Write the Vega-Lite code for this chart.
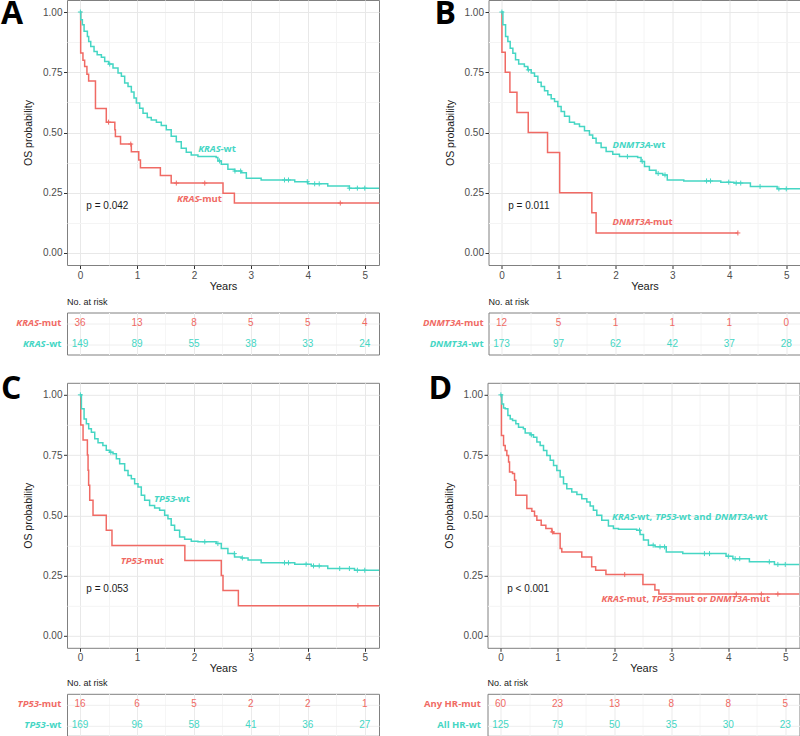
{
  "$schema": "https://vega.github.io/schema/vega-lite/v6.json",
  "padding": {"top": -3, "left": 0, "right": 0, "bottom": 0},
  "autosize": {"type": "pad"},
  "background": "white",
  "spacing": 16.8,
  "config": {
    "view": {"stroke": "#808080", "strokeWidth": 1},
    "axis": {"domain": false, "tickColor": "#333333", "tickSize": 3.5, "labelFont": "Liberation Sans", "titleFont": "Liberation Sans", "labelFontSize": 10, "titleFontSize": 10.5, "labelColor": "#4d4d4d", "titleColor": "#1a1a1a", "titleFontWeight": "normal"}
  },
  "datasets": {
    "letters": [{"panel":"A","letter":"A","t":-1.389,"s":0.95},{"panel":"B","letter":"B","t":-1.179,"s":0.95},{"panel":"C","letter":"C","t":-1.389,"s":0.984},{"panel":"D","letter":"D","t":-1.266,"s":0.984}],
    "km": [
      {"panel":"A","grp":"mut","t":0,"s":1},{"panel":"A","grp":"mut","t":0.01,"s":0.83},{"panel":"A","grp":"mut","t":0.05,"s":0.8},{"panel":"A","grp":"mut","t":0.08,"s":0.774},{"panel":"A","grp":"mut","t":0.12,"s":0.742},{"panel":"A","grp":"mut","t":0.15,"s":0.714},{"panel":"A","grp":"mut","t":0.27,"s":0.6},{"panel":"A","grp":"mut","t":0.46,"s":0.543},{"panel":"A","grp":"mut","t":0.61,"s":0.511},{"panel":"A","grp":"mut","t":0.62,"s":0.483},{"panel":"A","grp":"mut","t":0.71,"s":0.452},{"panel":"A","grp":"mut","t":0.9,"s":0.42},{"panel":"A","grp":"mut","t":1.03,"s":0.386},{"panel":"A","grp":"mut","t":1.06,"s":0.354},{"panel":"A","grp":"mut","t":1.41,"s":0.321},{"panel":"A","grp":"mut","t":1.6,"s":0.29},{"panel":"A","grp":"mut","t":2.51,"s":0.248},{"panel":"A","grp":"mut","t":2.71,"s":0.207},{"panel":"A","grp":"mut","t":5.25,"s":0.207},
      {"panel":"A","grp":"wt","t":0,"s":1},{"panel":"A","grp":"wt","t":0.011,"s":0.968},{"panel":"A","grp":"wt","t":0.04,"s":0.947},{"panel":"A","grp":"wt","t":0.07,"s":0.92},{"panel":"A","grp":"wt","t":0.128,"s":0.899},{"panel":"A","grp":"wt","t":0.151,"s":0.878},{"panel":"A","grp":"wt","t":0.187,"s":0.857},{"panel":"A","grp":"wt","t":0.245,"s":0.836},{"panel":"A","grp":"wt","t":0.3,"s":0.823},{"panel":"A","grp":"wt","t":0.374,"s":0.812},{"panel":"A","grp":"wt","t":0.432,"s":0.795},{"panel":"A","grp":"wt","t":0.502,"s":0.784},{"panel":"A","grp":"wt","t":0.578,"s":0.768},{"panel":"A","grp":"wt","t":0.666,"s":0.747},{"panel":"A","grp":"wt","t":0.725,"s":0.733},{"panel":"A","grp":"wt","t":0.783,"s":0.705},{"panel":"A","grp":"wt","t":0.842,"s":0.691},{"panel":"A","grp":"wt","t":0.9,"s":0.668},{"panel":"A","grp":"wt","t":0.947,"s":0.643},{"panel":"A","grp":"wt","t":0.988,"s":0.622},{"panel":"A","grp":"wt","t":1.046,"s":0.601},{"panel":"A","grp":"wt","t":1.105,"s":0.58},{"panel":"A","grp":"wt","t":1.18,"s":0.562},{"panel":"A","grp":"wt","t":1.25,"s":0.552},{"panel":"A","grp":"wt","t":1.34,"s":0.543},{"panel":"A","grp":"wt","t":1.426,"s":0.529},{"panel":"A","grp":"wt","t":1.514,"s":0.511},{"panel":"A","grp":"wt","t":1.6,"s":0.484},{"panel":"A","grp":"wt","t":1.69,"s":0.462},{"panel":"A","grp":"wt","t":1.777,"s":0.435},{"panel":"A","grp":"wt","t":1.865,"s":0.418},{"panel":"A","grp":"wt","t":1.952,"s":0.407},{"panel":"A","grp":"wt","t":2.07,"s":0.4},{"panel":"A","grp":"wt","t":2.39,"s":0.396},{"panel":"A","grp":"wt","t":2.42,"s":0.382},{"panel":"A","grp":"wt","t":2.48,"s":0.368},{"panel":"A","grp":"wt","t":2.596,"s":0.347},{"panel":"A","grp":"wt","t":2.713,"s":0.34},{"panel":"A","grp":"wt","t":2.83,"s":0.333},{"panel":"A","grp":"wt","t":2.92,"s":0.31},{"panel":"A","grp":"wt","t":3.18,"s":0.303},{"panel":"A","grp":"wt","t":3.77,"s":0.296},{"panel":"A","grp":"wt","t":4.0,"s":0.287},{"panel":"A","grp":"wt","t":4.35,"s":0.278},{"panel":"A","grp":"wt","t":4.73,"s":0.269},{"panel":"A","grp":"wt","t":5.25,"s":0.269},
      {"panel":"B","grp":"mut","t":0,"s":1},{"panel":"B","grp":"mut","t":0.006,"s":0.833},{"panel":"B","grp":"mut","t":0.064,"s":0.75},{"panel":"B","grp":"mut","t":0.146,"s":0.667},{"panel":"B","grp":"mut","t":0.27,"s":0.583},{"panel":"B","grp":"mut","t":0.468,"s":0.5},{"panel":"B","grp":"mut","t":0.807,"s":0.417},{"panel":"B","grp":"mut","t":1.02,"s":0.25},{"panel":"B","grp":"mut","t":1.585,"s":0.167},{"panel":"B","grp":"mut","t":1.66,"s":0.083},{"panel":"B","grp":"mut","t":4.15,"s":0.083},
      {"panel":"B","grp":"wt","t":0,"s":1},{"panel":"B","grp":"wt","t":0.023,"s":0.947},{"panel":"B","grp":"wt","t":0.07,"s":0.899},{"panel":"B","grp":"wt","t":0.11,"s":0.878},{"panel":"B","grp":"wt","t":0.151,"s":0.85},{"panel":"B","grp":"wt","t":0.198,"s":0.829},{"panel":"B","grp":"wt","t":0.245,"s":0.802},{"panel":"B","grp":"wt","t":0.3,"s":0.784},{"panel":"B","grp":"wt","t":0.4,"s":0.774},{"panel":"B","grp":"wt","t":0.46,"s":0.76},{"panel":"B","grp":"wt","t":0.52,"s":0.747},{"panel":"B","grp":"wt","t":0.578,"s":0.733},{"panel":"B","grp":"wt","t":0.637,"s":0.709},{"panel":"B","grp":"wt","t":0.695,"s":0.691},{"panel":"B","grp":"wt","t":0.754,"s":0.673},{"panel":"B","grp":"wt","t":0.812,"s":0.657},{"panel":"B","grp":"wt","t":0.871,"s":0.64},{"panel":"B","grp":"wt","t":0.93,"s":0.629},{"panel":"B","grp":"wt","t":0.988,"s":0.608},{"panel":"B","grp":"wt","t":1.046,"s":0.587},{"panel":"B","grp":"wt","t":1.105,"s":0.567},{"panel":"B","grp":"wt","t":1.192,"s":0.543},{"panel":"B","grp":"wt","t":1.28,"s":0.535},{"panel":"B","grp":"wt","t":1.368,"s":0.525},{"panel":"B","grp":"wt","t":1.456,"s":0.507},{"panel":"B","grp":"wt","t":1.543,"s":0.49},{"panel":"B","grp":"wt","t":1.6,"s":0.476},{"panel":"B","grp":"wt","t":1.66,"s":0.456},{"panel":"B","grp":"wt","t":1.748,"s":0.438},{"panel":"B","grp":"wt","t":1.836,"s":0.421},{"panel":"B","grp":"wt","t":1.953,"s":0.41},{"panel":"B","grp":"wt","t":2.07,"s":0.4},{"panel":"B","grp":"wt","t":2.39,"s":0.396},{"panel":"B","grp":"wt","t":2.45,"s":0.38},{"panel":"B","grp":"wt","t":2.51,"s":0.359},{"panel":"B","grp":"wt","t":2.596,"s":0.343},{"panel":"B","grp":"wt","t":2.713,"s":0.33},{"panel":"B","grp":"wt","t":2.83,"s":0.324},{"panel":"B","grp":"wt","t":2.91,"s":0.303},{"panel":"B","grp":"wt","t":3.2,"s":0.299},{"panel":"B","grp":"wt","t":3.85,"s":0.294},{"panel":"B","grp":"wt","t":4.08,"s":0.29},{"panel":"B","grp":"wt","t":4.37,"s":0.276},{"panel":"B","grp":"wt","t":4.84,"s":0.266},{"panel":"B","grp":"wt","t":5.25,"s":0.266},
      {"panel":"C","grp":"mut","t":0,"s":1},{"panel":"C","grp":"mut","t":0.011,"s":0.875},{"panel":"C","grp":"mut","t":0.052,"s":0.8125},{"panel":"C","grp":"mut","t":0.128,"s":0.75},{"panel":"C","grp":"mut","t":0.14,"s":0.6875},{"panel":"C","grp":"mut","t":0.15,"s":0.625},{"panel":"C","grp":"mut","t":0.169,"s":0.5625},{"panel":"C","grp":"mut","t":0.227,"s":0.5},{"panel":"C","grp":"mut","t":0.46,"s":0.4375},{"panel":"C","grp":"mut","t":0.56,"s":0.375},{"panel":"C","grp":"mut","t":1.84,"s":0.3125},{"panel":"C","grp":"mut","t":2.48,"s":0.25},{"panel":"C","grp":"mut","t":2.51,"s":0.1875},{"panel":"C","grp":"mut","t":2.78,"s":0.125},{"panel":"C","grp":"mut","t":5.25,"s":0.125},
      {"panel":"C","grp":"wt","t":0,"s":1},{"panel":"C","grp":"wt","t":0.023,"s":0.942},{"panel":"C","grp":"wt","t":0.07,"s":0.9},{"panel":"C","grp":"wt","t":0.11,"s":0.88},{"panel":"C","grp":"wt","t":0.151,"s":0.859},{"panel":"C","grp":"wt","t":0.198,"s":0.845},{"panel":"C","grp":"wt","t":0.257,"s":0.818},{"panel":"C","grp":"wt","t":0.315,"s":0.801},{"panel":"C","grp":"wt","t":0.4,"s":0.79},{"panel":"C","grp":"wt","t":0.46,"s":0.77},{"panel":"C","grp":"wt","t":0.52,"s":0.762},{"panel":"C","grp":"wt","t":0.578,"s":0.755},{"panel":"C","grp":"wt","t":0.637,"s":0.735},{"panel":"C","grp":"wt","t":0.695,"s":0.714},{"panel":"C","grp":"wt","t":0.783,"s":0.686},{"panel":"C","grp":"wt","t":0.842,"s":0.665},{"panel":"C","grp":"wt","t":0.9,"s":0.652},{"panel":"C","grp":"wt","t":0.958,"s":0.631},{"panel":"C","grp":"wt","t":1.017,"s":0.617},{"panel":"C","grp":"wt","t":1.075,"s":0.583},{"panel":"C","grp":"wt","t":1.134,"s":0.562},{"panel":"C","grp":"wt","t":1.221,"s":0.541},{"panel":"C","grp":"wt","t":1.309,"s":0.53},{"panel":"C","grp":"wt","t":1.397,"s":0.521},{"panel":"C","grp":"wt","t":1.485,"s":0.5},{"panel":"C","grp":"wt","t":1.543,"s":0.486},{"panel":"C","grp":"wt","t":1.6,"s":0.459},{"panel":"C","grp":"wt","t":1.66,"s":0.438},{"panel":"C","grp":"wt","t":1.748,"s":0.41},{"panel":"C","grp":"wt","t":1.836,"s":0.401},{"panel":"C","grp":"wt","t":1.953,"s":0.392},{"panel":"C","grp":"wt","t":2.07,"s":0.39},{"panel":"C","grp":"wt","t":2.39,"s":0.383},{"panel":"C","grp":"wt","t":2.48,"s":0.362},{"panel":"C","grp":"wt","t":2.596,"s":0.341},{"panel":"C","grp":"wt","t":2.713,"s":0.327},{"panel":"C","grp":"wt","t":2.83,"s":0.323},{"panel":"C","grp":"wt","t":2.95,"s":0.314},{"panel":"C","grp":"wt","t":3.18,"s":0.303},{"panel":"C","grp":"wt","t":3.77,"s":0.297},{"panel":"C","grp":"wt","t":4.06,"s":0.29},{"panel":"C","grp":"wt","t":4.35,"s":0.279},{"panel":"C","grp":"wt","t":4.82,"s":0.272},{"panel":"C","grp":"wt","t":5.25,"s":0.272},
      {"panel":"D","grp":"mut","t":0,"s":1},{"panel":"D","grp":"mut","t":0.015,"s":0.831},{"panel":"D","grp":"mut","t":0.052,"s":0.79},{"panel":"D","grp":"mut","t":0.081,"s":0.769},{"panel":"D","grp":"mut","t":0.11,"s":0.748},{"panel":"D","grp":"mut","t":0.14,"s":0.721},{"panel":"D","grp":"mut","t":0.157,"s":0.68},{"panel":"D","grp":"mut","t":0.21,"s":0.673},{"panel":"D","grp":"mut","t":0.245,"s":0.645},{"panel":"D","grp":"mut","t":0.268,"s":0.583},{"panel":"D","grp":"mut","t":0.461,"s":0.528},{"panel":"D","grp":"mut","t":0.549,"s":0.517},{"panel":"D","grp":"mut","t":0.596,"s":0.497},{"panel":"D","grp":"mut","t":0.637,"s":0.479},{"panel":"D","grp":"mut","t":0.713,"s":0.459},{"panel":"D","grp":"mut","t":0.795,"s":0.445},{"panel":"D","grp":"mut","t":0.9,"s":0.431},{"panel":"D","grp":"mut","t":0.93,"s":0.424},{"panel":"D","grp":"mut","t":1.046,"s":0.362},{"panel":"D","grp":"mut","t":1.075,"s":0.348},{"panel":"D","grp":"mut","t":1.426,"s":0.327},{"panel":"D","grp":"mut","t":1.6,"s":0.286},{"panel":"D","grp":"mut","t":1.67,"s":0.272},{"panel":"D","grp":"mut","t":1.85,"s":0.254},{"panel":"D","grp":"mut","t":2.5,"s":0.213},{"panel":"D","grp":"mut","t":2.71,"s":0.19},{"panel":"D","grp":"mut","t":2.78,"s":0.173},{"panel":"D","grp":"mut","t":5.25,"s":0.173},
      {"panel":"D","grp":"wt","t":0,"s":1},{"panel":"D","grp":"wt","t":0.023,"s":0.962},{"panel":"D","grp":"wt","t":0.052,"s":0.945},{"panel":"D","grp":"wt","t":0.081,"s":0.942},{"panel":"D","grp":"wt","t":0.128,"s":0.914},{"panel":"D","grp":"wt","t":0.169,"s":0.9},{"panel":"D","grp":"wt","t":0.21,"s":0.893},{"panel":"D","grp":"wt","t":0.268,"s":0.88},{"panel":"D","grp":"wt","t":0.315,"s":0.866},{"panel":"D","grp":"wt","t":0.4,"s":0.859},{"panel":"D","grp":"wt","t":0.432,"s":0.842},{"panel":"D","grp":"wt","t":0.52,"s":0.834},{"panel":"D","grp":"wt","t":0.578,"s":0.824},{"panel":"D","grp":"wt","t":0.637,"s":0.804},{"panel":"D","grp":"wt","t":0.695,"s":0.79},{"panel":"D","grp":"wt","t":0.754,"s":0.769},{"panel":"D","grp":"wt","t":0.812,"s":0.748},{"panel":"D","grp":"wt","t":0.871,"s":0.728},{"panel":"D","grp":"wt","t":0.93,"s":0.707},{"panel":"D","grp":"wt","t":0.988,"s":0.686},{"panel":"D","grp":"wt","t":1.046,"s":0.659},{"panel":"D","grp":"wt","t":1.105,"s":0.631},{"panel":"D","grp":"wt","t":1.163,"s":0.61},{"panel":"D","grp":"wt","t":1.25,"s":0.597},{"panel":"D","grp":"wt","t":1.34,"s":0.586},{"panel":"D","grp":"wt","t":1.426,"s":0.569},{"panel":"D","grp":"wt","t":1.514,"s":0.555},{"panel":"D","grp":"wt","t":1.573,"s":0.539},{"panel":"D","grp":"wt","t":1.63,"s":0.521},{"panel":"D","grp":"wt","t":1.69,"s":0.5},{"panel":"D","grp":"wt","t":1.777,"s":0.479},{"panel":"D","grp":"wt","t":1.894,"s":0.456},{"panel":"D","grp":"wt","t":1.982,"s":0.445},{"panel":"D","grp":"wt","t":2.07,"s":0.442},{"panel":"D","grp":"wt","t":2.39,"s":0.438},{"panel":"D","grp":"wt","t":2.45,"s":0.42},{"panel":"D","grp":"wt","t":2.51,"s":0.397},{"panel":"D","grp":"wt","t":2.596,"s":0.376},{"panel":"D","grp":"wt","t":2.713,"s":0.369},{"panel":"D","grp":"wt","t":2.91,"s":0.348},{"panel":"D","grp":"wt","t":3.2,"s":0.341},{"panel":"D","grp":"wt","t":3.96,"s":0.33},{"panel":"D","grp":"wt","t":4.08,"s":0.32},{"panel":"D","grp":"wt","t":4.37,"s":0.307},{"panel":"D","grp":"wt","t":4.81,"s":0.296},{"panel":"D","grp":"wt","t":5.25,"s":0.296}
    ],
    "cens": [
      {"panel":"A","grp":"wt","t":0.005,"s":1},{"panel":"A","grp":"wt","t":0.52,"s":0.784},{"panel":"A","grp":"wt","t":2.45,"s":0.382},{"panel":"A","grp":"wt","t":2.72,"s":0.34},{"panel":"A","grp":"wt","t":2.82,"s":0.34},{"panel":"A","grp":"wt","t":3.59,"s":0.303},{"panel":"A","grp":"wt","t":3.66,"s":0.303},{"panel":"A","grp":"wt","t":3.99,"s":0.296},{"panel":"A","grp":"wt","t":4.12,"s":0.287},{"panel":"A","grp":"wt","t":4.2,"s":0.287},{"panel":"A","grp":"wt","t":4.73,"s":0.269},{"panel":"A","grp":"wt","t":4.87,"s":0.269},{"panel":"A","grp":"wt","t":5.0,"s":0.269},
      {"panel":"A","grp":"mut","t":0.5,"s":0.543},{"panel":"A","grp":"mut","t":0.89,"s":0.452},{"panel":"A","grp":"mut","t":1.69,"s":0.29},{"panel":"A","grp":"mut","t":2.19,"s":0.29},{"panel":"A","grp":"mut","t":4.57,"s":0.207},
      {"panel":"B","grp":"wt","t":0.005,"s":1},{"panel":"B","grp":"wt","t":0.47,"s":0.76},{"panel":"B","grp":"wt","t":2.21,"s":0.4},{"panel":"B","grp":"wt","t":2.47,"s":0.38},{"panel":"B","grp":"wt","t":2.75,"s":0.33},{"panel":"B","grp":"wt","t":2.87,"s":0.324},{"panel":"B","grp":"wt","t":3.6,"s":0.299},{"panel":"B","grp":"wt","t":3.67,"s":0.299},{"panel":"B","grp":"wt","t":3.99,"s":0.294},{"panel":"B","grp":"wt","t":4.12,"s":0.29},{"panel":"B","grp":"wt","t":4.2,"s":0.29},{"panel":"B","grp":"wt","t":4.54,"s":0.276},{"panel":"B","grp":"wt","t":4.87,"s":0.266},{"panel":"B","grp":"wt","t":5.0,"s":0.266},
      {"panel":"B","grp":"mut","t":4.15,"s":0.083},
      {"panel":"C","grp":"wt","t":0.005,"s":1},{"panel":"C","grp":"wt","t":0.54,"s":0.762},{"panel":"C","grp":"wt","t":2.19,"s":0.39},{"panel":"C","grp":"wt","t":2.42,"s":0.383},{"panel":"C","grp":"wt","t":2.71,"s":0.341},{"panel":"C","grp":"wt","t":2.85,"s":0.323},{"panel":"C","grp":"wt","t":3.59,"s":0.303},{"panel":"C","grp":"wt","t":3.66,"s":0.303},{"panel":"C","grp":"wt","t":3.97,"s":0.297},{"panel":"C","grp":"wt","t":4.1,"s":0.29},{"panel":"C","grp":"wt","t":4.2,"s":0.29},{"panel":"C","grp":"wt","t":4.56,"s":0.279},{"panel":"C","grp":"wt","t":4.73,"s":0.279},{"panel":"C","grp":"wt","t":4.87,"s":0.272},{"panel":"C","grp":"wt","t":5.0,"s":0.272},
      {"panel":"C","grp":"mut","t":4.88,"s":0.125},
      {"panel":"D","grp":"wt","t":0.005,"s":1},{"panel":"D","grp":"wt","t":0.54,"s":0.834},{"panel":"D","grp":"wt","t":2.44,"s":0.438},{"panel":"D","grp":"wt","t":2.68,"s":0.376},{"panel":"D","grp":"wt","t":2.8,"s":0.369},{"panel":"D","grp":"wt","t":2.88,"s":0.369},{"panel":"D","grp":"wt","t":3.58,"s":0.341},{"panel":"D","grp":"wt","t":3.67,"s":0.341},{"panel":"D","grp":"wt","t":4.0,"s":0.33},{"panel":"D","grp":"wt","t":4.12,"s":0.32},{"panel":"D","grp":"wt","t":4.2,"s":0.32},{"panel":"D","grp":"wt","t":4.72,"s":0.307},{"panel":"D","grp":"wt","t":4.87,"s":0.296},{"panel":"D","grp":"wt","t":5.0,"s":0.296},
      {"panel":"D","grp":"mut","t":0.91,"s":0.431},{"panel":"D","grp":"mut","t":2.18,"s":0.254},{"panel":"D","grp":"mut","t":4.14,"s":0.173},{"panel":"D","grp":"mut","t":4.58,"s":0.173},{"panel":"D","grp":"mut","t":4.87,"s":0.173}
    ],
    "risk": [
      {"panel":"A","grp":"mut","t":0,"n":36},{"panel":"A","grp":"mut","t":1,"n":13},{"panel":"A","grp":"mut","t":2,"n":8},{"panel":"A","grp":"mut","t":3,"n":5},{"panel":"A","grp":"mut","t":4,"n":5},{"panel":"A","grp":"mut","t":5,"n":4},
      {"panel":"A","grp":"wt","t":0,"n":149},{"panel":"A","grp":"wt","t":1,"n":89},{"panel":"A","grp":"wt","t":2,"n":55},{"panel":"A","grp":"wt","t":3,"n":38},{"panel":"A","grp":"wt","t":4,"n":33},{"panel":"A","grp":"wt","t":5,"n":24},
      {"panel":"B","grp":"mut","t":0,"n":12},{"panel":"B","grp":"mut","t":1,"n":5},{"panel":"B","grp":"mut","t":2,"n":1},{"panel":"B","grp":"mut","t":3,"n":1},{"panel":"B","grp":"mut","t":4,"n":1},{"panel":"B","grp":"mut","t":5,"n":0},
      {"panel":"B","grp":"wt","t":0,"n":173},{"panel":"B","grp":"wt","t":1,"n":97},{"panel":"B","grp":"wt","t":2,"n":62},{"panel":"B","grp":"wt","t":3,"n":42},{"panel":"B","grp":"wt","t":4,"n":37},{"panel":"B","grp":"wt","t":5,"n":28},
      {"panel":"C","grp":"mut","t":0,"n":16},{"panel":"C","grp":"mut","t":1,"n":6},{"panel":"C","grp":"mut","t":2,"n":5},{"panel":"C","grp":"mut","t":3,"n":2},{"panel":"C","grp":"mut","t":4,"n":2},{"panel":"C","grp":"mut","t":5,"n":1},
      {"panel":"C","grp":"wt","t":0,"n":169},{"panel":"C","grp":"wt","t":1,"n":96},{"panel":"C","grp":"wt","t":2,"n":58},{"panel":"C","grp":"wt","t":3,"n":41},{"panel":"C","grp":"wt","t":4,"n":36},{"panel":"C","grp":"wt","t":5,"n":27},
      {"panel":"D","grp":"mut","t":0,"n":60},{"panel":"D","grp":"mut","t":1,"n":23},{"panel":"D","grp":"mut","t":2,"n":13},{"panel":"D","grp":"mut","t":3,"n":8},{"panel":"D","grp":"mut","t":4,"n":8},{"panel":"D","grp":"mut","t":5,"n":5},
      {"panel":"D","grp":"wt","t":0,"n":125},{"panel":"D","grp":"wt","t":1,"n":79},{"panel":"D","grp":"wt","t":2,"n":50},{"panel":"D","grp":"wt","t":3,"n":35},{"panel":"D","grp":"wt","t":4,"n":30},{"panel":"D","grp":"wt","t":5,"n":23}
    ],
    "ann": [
      {"panel":"A","grp":"wt","t":2.075,"s":0.432,"text":"KRAS","it":true},{"panel":"A","grp":"wt","t":2.465,"s":0.432,"text":"-wt","it":false},
      {"panel":"A","grp":"mut","t":1.7,"s":0.223,"text":"KRAS","it":true},{"panel":"A","grp":"mut","t":2.09,"s":0.223,"text":"-mut","it":false},
      {"panel":"B","grp":"wt","t":1.947,"s":0.449,"text":"DNMT3A","it":true},{"panel":"B","grp":"wt","t":2.606,"s":0.449,"text":"-wt","it":false},
      {"panel":"B","grp":"mut","t":1.947,"s":0.128,"text":"DNMT3A","it":true},{"panel":"B","grp":"mut","t":2.606,"s":0.128,"text":"-mut","it":false},
      {"panel":"C","grp":"wt","t":1.298,"s":0.569,"text":"TP53","it":true},{"panel":"C","grp":"wt","t":1.66,"s":0.569,"text":"-wt","it":false},
      {"panel":"C","grp":"mut","t":0.712,"s":0.311,"text":"TP53","it":true},{"panel":"C","grp":"mut","t":1.074,"s":0.311,"text":"-mut","it":false},
      {"panel":"D","grp":"wt","t":1.958,"s":0.493,"text":"KRAS","it":true},{"panel":"D","grp":"wt","t":2.348,"s":0.493,"text":"-wt,","it":false},{"panel":"D","grp":"wt","t":2.715,"s":0.493,"text":"TP53","it":true},{"panel":"D","grp":"wt","t":3.077,"s":0.493,"text":"-wt and","it":false},{"panel":"D","grp":"wt","t":3.76,"s":0.493,"text":"DNMT3A","it":true},{"panel":"D","grp":"wt","t":4.419,"s":0.493,"text":"-wt","it":false},
      {"panel":"D","grp":"mut","t":1.772,"s":0.152,"text":"KRAS","it":true},{"panel":"D","grp":"mut","t":2.162,"s":0.152,"text":"-mut,","it":false},{"panel":"D","grp":"mut","t":2.649,"s":0.152,"text":"TP53","it":true},{"panel":"D","grp":"mut","t":3.01,"s":0.152,"text":"-mut or","it":false},{"panel":"D","grp":"mut","t":3.674,"s":0.152,"text":"DNMT3A","it":true},{"panel":"D","grp":"mut","t":4.333,"s":0.152,"text":"-mut","it":false}
    ],
    "tlab": [
      {"panel":"A","grp":"mut","t":-0.723,"text":"KRAS","it":true},{"panel":"A","grp":"mut","t":-0.328,"text":"-mut","it":false},{"panel":"A","grp":"wt","t":-0.605,"text":"KRAS","it":true},{"panel":"A","grp":"wt","t":-0.328,"text":"-wt","it":false},
      {"panel":"B","grp":"mut","t":-0.711,"text":"DNMT3A","it":true},{"panel":"B","grp":"mut","t":-0.316,"text":"-mut","it":false},{"panel":"B","grp":"wt","t":-0.593,"text":"DNMT3A","it":true},{"panel":"B","grp":"wt","t":-0.316,"text":"-wt","it":false},
      {"panel":"C","grp":"mut","t":-0.723,"text":"TP53","it":true},{"panel":"C","grp":"mut","t":-0.328,"text":"-mut","it":false},{"panel":"C","grp":"wt","t":-0.605,"text":"TP53","it":true},{"panel":"C","grp":"wt","t":-0.328,"text":"-wt","it":false},
      {"panel":"D","grp":"mut","t":-0.346,"text":"Any HR-mut","it":false},{"panel":"D","grp":"wt","t":-0.346,"text":"All HR-wt","it":false}
    ],
    "pval": [
      {"panel":"A","t":0.11,"s":0.196,"text":"p = 0.042"},{"panel":"B","t":0.116,"s":0.196,"text":"p = 0.011"},{"panel":"C","t":0.11,"s":0.196,"text":"p = 0.053"},{"panel":"D","t":0.116,"s":0.193,"text":"p < 0.001"}
    ]
  },
  "vconcat": [
    {
      "spacing": 41.5,
      "hconcat": [
        {
          "spacing": 4.5,
          "vconcat": [
            {
              "width": 312, "height": 265,
              "encoding": {
                "x": {"field": "t", "type": "quantitative", "scale": {"domain": [-0.23, 5.25], "nice": false, "zero": false}, "axis": {"title": "Years", "values": [0,0.5,1,1.5,2,2.5,3,3.5,4,4.5,5], "labelExpr": "datum.value % 1 === 0 ? format(datum.value, 'd') : ''", "grid": true, "gridColor": {"condition": {"test": "datum.value % 1 !== 0", "value": "#F4F4F4"}, "value": "#E8E8E8"}, "tickOpacity": {"condition": {"test": "datum.value % 1 !== 0", "value": 0}, "value": 1}, "labelPadding": 1.5, "titlePadding": 0, "titleFontSize": 11}},
                "y": {"field": "s", "type": "quantitative", "scale": {"domain": [-0.05, 1.05], "nice": false, "zero": false}, "axis": {"title": "OS probability", "values": [0,0.125,0.25,0.375,0.5,0.625,0.75,0.875,1], "labelExpr": "(datum.value * 4) % 1 === 0 ? format(datum.value, '.2f') : ''", "grid": true, "gridColor": {"condition": {"test": "(datum.value * 4) % 1 !== 0", "value": "#F4F4F4"}, "value": "#E8E8E8"}, "tickOpacity": {"condition": {"test": "(datum.value * 4) % 1 !== 0", "value": 0}, "value": 1}, "labelPadding": 1.5, "titlePadding": 9}},
                "color": {"field": "grp", "type": "nominal", "scale": {"domain": ["mut", "wt"], "range": ["#F06A64", "#45D6C4"]}, "legend": null}
              },
              "layer": [
                {"data": {"name": "km"}, "transform": [{"filter": "datum.panel === 'A'"}], "mark": {"type": "line", "interpolate": "step-after", "strokeWidth": 1.5, "clip": true}},
                {"data": {"name": "cens"}, "transform": [{"filter": "datum.panel === 'A'"}], "mark": {"type": "point", "shape": "M-1,0L1,0M0,-1L0,1", "size": 25, "strokeWidth": 1, "filled": false, "opacity": 1}},
                {"data": {"name": "ann"}, "transform": [{"filter": "datum.panel === 'A' && datum.it"}], "mark": {"type": "text", "align": "left", "baseline": "middle", "font": "Open Sans", "fontSize": 9.5, "fontWeight": "bold", "fontStyle": "italic"}, "encoding": {"text": {"field": "text"}}},
                {"data": {"name": "ann"}, "transform": [{"filter": "datum.panel === 'A' && !datum.it"}], "mark": {"type": "text", "align": "left", "baseline": "middle", "font": "Open Sans", "fontSize": 9.5, "fontWeight": "bold"}, "encoding": {"text": {"field": "text"}}},
                {"data": {"name": "pval"}, "transform": [{"filter": "datum.panel === 'A'"}], "mark": {"type": "text", "align": "left", "baseline": "middle", "font": "Liberation Sans", "fontSize": 10}, "encoding": {"text": {"field": "text"}, "color": {"value": "#1a1a1a"}}},
                {"data": {"name": "letters"}, "transform": [{"filter": "datum.panel === 'A'"}], "mark": {"type": "text", "align": "left", "baseline": "alphabetic", "font": "Open Sans", "fontSize": 32, "fontWeight": "bold"}, "encoding": {"text": {"field": "letter"}, "color": {"value": "#000000"}}}
              ]
            },
            {
              "width": 312, "height": 42,
              "title": {"text": "No. at risk", "anchor": "start", "frame": "group", "font": "Liberation Sans", "fontSize": 9, "fontWeight": "normal", "color": "#1a1a1a", "offset": 6},
              "encoding": {
                "x": {"field": "t", "type": "quantitative", "scale": {"domain": [-0.23, 5.25], "nice": false, "zero": false}, "axis": {"title": null, "values": [0,0.5,1,1.5,2,2.5,3,3.5,4,4.5,5], "labels": false, "ticks": false, "grid": true, "gridColor": {"condition": {"test": "datum.value % 1 !== 0", "value": "#F6F6F6"}, "value": "#EBEBEB"}}},
                "y": {"field": "grp", "type": "nominal", "scale": {"type": "point", "domain": ["mut", "wt"], "padding": 0.5}, "axis": {"title": null, "labels": false, "ticks": false, "grid": true, "gridColor": "#EEEEEE"}},
                "color": {"field": "grp", "type": "nominal", "scale": {"domain": ["mut", "wt"], "range": ["#F06A64", "#45D6C4"]}, "legend": null}
              },
              "layer": [
                {"data": {"name": "risk"}, "transform": [{"filter": "datum.panel === 'A'"}], "mark": {"type": "text", "font": "Liberation Sans", "fontSize": 10, "baseline": "middle", "align": "center"}, "encoding": {"text": {"field": "n", "type": "quantitative"}}},
                {"data": {"name": "tlab"}, "transform": [{"filter": "datum.panel === 'A' && datum.it"}], "mark": {"type": "text", "align": "right", "baseline": "middle", "font": "Open Sans", "fontSize": 9.5, "fontWeight": "bold", "fontStyle": "italic"}, "encoding": {"text": {"field": "text"}}},
                {"data": {"name": "tlab"}, "transform": [{"filter": "datum.panel === 'A' && !datum.it"}], "mark": {"type": "text", "align": "right", "baseline": "middle", "font": "Open Sans", "fontSize": 9.5, "fontWeight": "bold"}, "encoding": {"text": {"field": "text"}}}
              ]
            }
          ]
        },
        {
          "spacing": 4.5,
          "vconcat": [
            {
              "width": 312, "height": 265,
              "encoding": {
                "x": {"field": "t", "type": "quantitative", "scale": {"domain": [-0.23, 5.25], "nice": false, "zero": false}, "axis": {"title": "Years", "values": [0,0.5,1,1.5,2,2.5,3,3.5,4,4.5,5], "labelExpr": "datum.value % 1 === 0 ? format(datum.value, 'd') : ''", "grid": true, "gridColor": {"condition": {"test": "datum.value % 1 !== 0", "value": "#F4F4F4"}, "value": "#E8E8E8"}, "tickOpacity": {"condition": {"test": "datum.value % 1 !== 0", "value": 0}, "value": 1}, "labelPadding": 1.5, "titlePadding": 0, "titleFontSize": 11}},
                "y": {"field": "s", "type": "quantitative", "scale": {"domain": [-0.05, 1.05], "nice": false, "zero": false}, "axis": {"title": "OS probability", "values": [0,0.125,0.25,0.375,0.5,0.625,0.75,0.875,1], "labelExpr": "(datum.value * 4) % 1 === 0 ? format(datum.value, '.2f') : ''", "grid": true, "gridColor": {"condition": {"test": "(datum.value * 4) % 1 !== 0", "value": "#F4F4F4"}, "value": "#E8E8E8"}, "tickOpacity": {"condition": {"test": "(datum.value * 4) % 1 !== 0", "value": 0}, "value": 1}, "labelPadding": 1.5, "titlePadding": 9}},
                "color": {"field": "grp", "type": "nominal", "scale": {"domain": ["mut", "wt"], "range": ["#F06A64", "#45D6C4"]}, "legend": null}
              },
              "layer": [
                {"data": {"name": "km"}, "transform": [{"filter": "datum.panel === 'B'"}], "mark": {"type": "line", "interpolate": "step-after", "strokeWidth": 1.5, "clip": true}},
                {"data": {"name": "cens"}, "transform": [{"filter": "datum.panel === 'B'"}], "mark": {"type": "point", "shape": "M-1,0L1,0M0,-1L0,1", "size": 25, "strokeWidth": 1, "filled": false, "opacity": 1}},
                {"data": {"name": "ann"}, "transform": [{"filter": "datum.panel === 'B' && datum.it"}], "mark": {"type": "text", "align": "left", "baseline": "middle", "font": "Open Sans", "fontSize": 9.5, "fontWeight": "bold", "fontStyle": "italic"}, "encoding": {"text": {"field": "text"}}},
                {"data": {"name": "ann"}, "transform": [{"filter": "datum.panel === 'B' && !datum.it"}], "mark": {"type": "text", "align": "left", "baseline": "middle", "font": "Open Sans", "fontSize": 9.5, "fontWeight": "bold"}, "encoding": {"text": {"field": "text"}}},
                {"data": {"name": "pval"}, "transform": [{"filter": "datum.panel === 'B'"}], "mark": {"type": "text", "align": "left", "baseline": "middle", "font": "Liberation Sans", "fontSize": 10}, "encoding": {"text": {"field": "text"}, "color": {"value": "#1a1a1a"}}},
                {"data": {"name": "letters"}, "transform": [{"filter": "datum.panel === 'B'"}], "mark": {"type": "text", "align": "left", "baseline": "alphabetic", "font": "Open Sans", "fontSize": 32, "fontWeight": "bold"}, "encoding": {"text": {"field": "letter"}, "color": {"value": "#000000"}}}
              ]
            },
            {
              "width": 312, "height": 42,
              "title": {"text": "No. at risk", "anchor": "start", "frame": "group", "font": "Liberation Sans", "fontSize": 9, "fontWeight": "normal", "color": "#1a1a1a", "offset": 6},
              "encoding": {
                "x": {"field": "t", "type": "quantitative", "scale": {"domain": [-0.23, 5.25], "nice": false, "zero": false}, "axis": {"title": null, "values": [0,0.5,1,1.5,2,2.5,3,3.5,4,4.5,5], "labels": false, "ticks": false, "grid": true, "gridColor": {"condition": {"test": "datum.value % 1 !== 0", "value": "#F6F6F6"}, "value": "#EBEBEB"}}},
                "y": {"field": "grp", "type": "nominal", "scale": {"type": "point", "domain": ["mut", "wt"], "padding": 0.5}, "axis": {"title": null, "labels": false, "ticks": false, "grid": true, "gridColor": "#EEEEEE"}},
                "color": {"field": "grp", "type": "nominal", "scale": {"domain": ["mut", "wt"], "range": ["#F06A64", "#45D6C4"]}, "legend": null}
              },
              "layer": [
                {"data": {"name": "risk"}, "transform": [{"filter": "datum.panel === 'B'"}], "mark": {"type": "text", "font": "Liberation Sans", "fontSize": 10, "baseline": "middle", "align": "center"}, "encoding": {"text": {"field": "n", "type": "quantitative"}}},
                {"data": {"name": "tlab"}, "transform": [{"filter": "datum.panel === 'B' && datum.it"}], "mark": {"type": "text", "align": "right", "baseline": "middle", "font": "Open Sans", "fontSize": 9.5, "fontWeight": "bold", "fontStyle": "italic"}, "encoding": {"text": {"field": "text"}}},
                {"data": {"name": "tlab"}, "transform": [{"filter": "datum.panel === 'B' && !datum.it"}], "mark": {"type": "text", "align": "right", "baseline": "middle", "font": "Open Sans", "fontSize": 9.5, "fontWeight": "bold"}, "encoding": {"text": {"field": "text"}}}
              ]
            }
          ]
        }
      ]
    },
    {
      "spacing": 42.5,
      "hconcat": [
        {
          "spacing": 3,
          "vconcat": [
            {
              "width": 312, "height": 265,
              "encoding": {
                "x": {"field": "t", "type": "quantitative", "scale": {"domain": [-0.23, 5.25], "nice": false, "zero": false}, "axis": {"title": "Years", "values": [0,0.5,1,1.5,2,2.5,3,3.5,4,4.5,5], "labelExpr": "datum.value % 1 === 0 ? format(datum.value, 'd') : ''", "grid": true, "gridColor": {"condition": {"test": "datum.value % 1 !== 0", "value": "#F4F4F4"}, "value": "#E8E8E8"}, "tickOpacity": {"condition": {"test": "datum.value % 1 !== 0", "value": 0}, "value": 1}, "labelPadding": 1.5, "titlePadding": 0, "titleFontSize": 11}},
                "y": {"field": "s", "type": "quantitative", "scale": {"domain": [-0.05, 1.05], "nice": false, "zero": false}, "axis": {"title": "OS probability", "values": [0,0.125,0.25,0.375,0.5,0.625,0.75,0.875,1], "labelExpr": "(datum.value * 4) % 1 === 0 ? format(datum.value, '.2f') : ''", "grid": true, "gridColor": {"condition": {"test": "(datum.value * 4) % 1 !== 0", "value": "#F4F4F4"}, "value": "#E8E8E8"}, "tickOpacity": {"condition": {"test": "(datum.value * 4) % 1 !== 0", "value": 0}, "value": 1}, "labelPadding": 1.5, "titlePadding": 9}},
                "color": {"field": "grp", "type": "nominal", "scale": {"domain": ["mut", "wt"], "range": ["#F06A64", "#45D6C4"]}, "legend": null}
              },
              "layer": [
                {"data": {"name": "km"}, "transform": [{"filter": "datum.panel === 'C'"}], "mark": {"type": "line", "interpolate": "step-after", "strokeWidth": 1.5, "clip": true}},
                {"data": {"name": "cens"}, "transform": [{"filter": "datum.panel === 'C'"}], "mark": {"type": "point", "shape": "M-1,0L1,0M0,-1L0,1", "size": 25, "strokeWidth": 1, "filled": false, "opacity": 1}},
                {"data": {"name": "ann"}, "transform": [{"filter": "datum.panel === 'C' && datum.it"}], "mark": {"type": "text", "align": "left", "baseline": "middle", "font": "Open Sans", "fontSize": 9.5, "fontWeight": "bold", "fontStyle": "italic"}, "encoding": {"text": {"field": "text"}}},
                {"data": {"name": "ann"}, "transform": [{"filter": "datum.panel === 'C' && !datum.it"}], "mark": {"type": "text", "align": "left", "baseline": "middle", "font": "Open Sans", "fontSize": 9.5, "fontWeight": "bold"}, "encoding": {"text": {"field": "text"}}},
                {"data": {"name": "pval"}, "transform": [{"filter": "datum.panel === 'C'"}], "mark": {"type": "text", "align": "left", "baseline": "middle", "font": "Liberation Sans", "fontSize": 10}, "encoding": {"text": {"field": "text"}, "color": {"value": "#1a1a1a"}}},
                {"data": {"name": "letters"}, "transform": [{"filter": "datum.panel === 'C'"}], "mark": {"type": "text", "align": "left", "baseline": "alphabetic", "font": "Open Sans", "fontSize": 32, "fontWeight": "bold"}, "encoding": {"text": {"field": "letter"}, "color": {"value": "#000000"}}}
              ]
            },
            {
              "width": 312, "height": 42,
              "title": {"text": "No. at risk", "anchor": "start", "frame": "group", "font": "Liberation Sans", "fontSize": 9, "fontWeight": "normal", "color": "#1a1a1a", "offset": 6},
              "encoding": {
                "x": {"field": "t", "type": "quantitative", "scale": {"domain": [-0.23, 5.25], "nice": false, "zero": false}, "axis": {"title": null, "values": [0,0.5,1,1.5,2,2.5,3,3.5,4,4.5,5], "labels": false, "ticks": false, "grid": true, "gridColor": {"condition": {"test": "datum.value % 1 !== 0", "value": "#F6F6F6"}, "value": "#EBEBEB"}}},
                "y": {"field": "grp", "type": "nominal", "scale": {"type": "point", "domain": ["mut", "wt"], "padding": 0.5}, "axis": {"title": null, "labels": false, "ticks": false, "grid": true, "gridColor": "#EEEEEE"}},
                "color": {"field": "grp", "type": "nominal", "scale": {"domain": ["mut", "wt"], "range": ["#F06A64", "#45D6C4"]}, "legend": null}
              },
              "layer": [
                {"data": {"name": "risk"}, "transform": [{"filter": "datum.panel === 'C'"}], "mark": {"type": "text", "font": "Liberation Sans", "fontSize": 10, "baseline": "middle", "align": "center"}, "encoding": {"text": {"field": "n", "type": "quantitative"}}},
                {"data": {"name": "tlab"}, "transform": [{"filter": "datum.panel === 'C' && datum.it"}], "mark": {"type": "text", "align": "right", "baseline": "middle", "font": "Open Sans", "fontSize": 9.5, "fontWeight": "bold", "fontStyle": "italic"}, "encoding": {"text": {"field": "text"}}},
                {"data": {"name": "tlab"}, "transform": [{"filter": "datum.panel === 'C' && !datum.it"}], "mark": {"type": "text", "align": "right", "baseline": "middle", "font": "Open Sans", "fontSize": 9.5, "fontWeight": "bold"}, "encoding": {"text": {"field": "text"}}}
              ]
            }
          ]
        },
        {
          "spacing": 3,
          "vconcat": [
            {
              "width": 312, "height": 265,
              "encoding": {
                "x": {"field": "t", "type": "quantitative", "scale": {"domain": [-0.23, 5.25], "nice": false, "zero": false}, "axis": {"title": "Years", "values": [0,0.5,1,1.5,2,2.5,3,3.5,4,4.5,5], "labelExpr": "datum.value % 1 === 0 ? format(datum.value, 'd') : ''", "grid": true, "gridColor": {"condition": {"test": "datum.value % 1 !== 0", "value": "#F4F4F4"}, "value": "#E8E8E8"}, "tickOpacity": {"condition": {"test": "datum.value % 1 !== 0", "value": 0}, "value": 1}, "labelPadding": 1.5, "titlePadding": 0, "titleFontSize": 11}},
                "y": {"field": "s", "type": "quantitative", "scale": {"domain": [-0.05, 1.05], "nice": false, "zero": false}, "axis": {"title": "OS probability", "values": [0,0.125,0.25,0.375,0.5,0.625,0.75,0.875,1], "labelExpr": "(datum.value * 4) % 1 === 0 ? format(datum.value, '.2f') : ''", "grid": true, "gridColor": {"condition": {"test": "(datum.value * 4) % 1 !== 0", "value": "#F4F4F4"}, "value": "#E8E8E8"}, "tickOpacity": {"condition": {"test": "(datum.value * 4) % 1 !== 0", "value": 0}, "value": 1}, "labelPadding": 1.5, "titlePadding": 9}},
                "color": {"field": "grp", "type": "nominal", "scale": {"domain": ["mut", "wt"], "range": ["#F06A64", "#45D6C4"]}, "legend": null}
              },
              "layer": [
                {"data": {"name": "km"}, "transform": [{"filter": "datum.panel === 'D'"}], "mark": {"type": "line", "interpolate": "step-after", "strokeWidth": 1.5, "clip": true}},
                {"data": {"name": "cens"}, "transform": [{"filter": "datum.panel === 'D'"}], "mark": {"type": "point", "shape": "M-1,0L1,0M0,-1L0,1", "size": 25, "strokeWidth": 1, "filled": false, "opacity": 1}},
                {"data": {"name": "ann"}, "transform": [{"filter": "datum.panel === 'D' && datum.it"}], "mark": {"type": "text", "align": "left", "baseline": "middle", "font": "Open Sans", "fontSize": 9.5, "fontWeight": "bold", "fontStyle": "italic"}, "encoding": {"text": {"field": "text"}}},
                {"data": {"name": "ann"}, "transform": [{"filter": "datum.panel === 'D' && !datum.it"}], "mark": {"type": "text", "align": "left", "baseline": "middle", "font": "Open Sans", "fontSize": 9.5, "fontWeight": "bold"}, "encoding": {"text": {"field": "text"}}},
                {"data": {"name": "pval"}, "transform": [{"filter": "datum.panel === 'D'"}], "mark": {"type": "text", "align": "left", "baseline": "middle", "font": "Liberation Sans", "fontSize": 10}, "encoding": {"text": {"field": "text"}, "color": {"value": "#1a1a1a"}}},
                {"data": {"name": "letters"}, "transform": [{"filter": "datum.panel === 'D'"}], "mark": {"type": "text", "align": "left", "baseline": "alphabetic", "font": "Open Sans", "fontSize": 32, "fontWeight": "bold"}, "encoding": {"text": {"field": "letter"}, "color": {"value": "#000000"}}}
              ]
            },
            {
              "width": 312, "height": 42,
              "title": {"text": "No. at risk", "anchor": "start", "frame": "group", "font": "Liberation Sans", "fontSize": 9, "fontWeight": "normal", "color": "#1a1a1a", "offset": 6},
              "encoding": {
                "x": {"field": "t", "type": "quantitative", "scale": {"domain": [-0.23, 5.25], "nice": false, "zero": false}, "axis": {"title": null, "values": [0,0.5,1,1.5,2,2.5,3,3.5,4,4.5,5], "labels": false, "ticks": false, "grid": true, "gridColor": {"condition": {"test": "datum.value % 1 !== 0", "value": "#F6F6F6"}, "value": "#EBEBEB"}}},
                "y": {"field": "grp", "type": "nominal", "scale": {"type": "point", "domain": ["mut", "wt"], "padding": 0.5}, "axis": {"title": null, "labels": false, "ticks": false, "grid": true, "gridColor": "#EEEEEE"}},
                "color": {"field": "grp", "type": "nominal", "scale": {"domain": ["mut", "wt"], "range": ["#F06A64", "#45D6C4"]}, "legend": null}
              },
              "layer": [
                {"data": {"name": "risk"}, "transform": [{"filter": "datum.panel === 'D'"}], "mark": {"type": "text", "font": "Liberation Sans", "fontSize": 10, "baseline": "middle", "align": "center"}, "encoding": {"text": {"field": "n", "type": "quantitative"}}},
                {"data": {"name": "tlab"}, "transform": [{"filter": "datum.panel === 'D' && !datum.it"}], "mark": {"type": "text", "align": "right", "baseline": "middle", "font": "Open Sans", "fontSize": 9.5, "fontWeight": "bold"}, "encoding": {"text": {"field": "text"}}}
              ]
            }
          ]
        }
      ]
    }
  ]
}
